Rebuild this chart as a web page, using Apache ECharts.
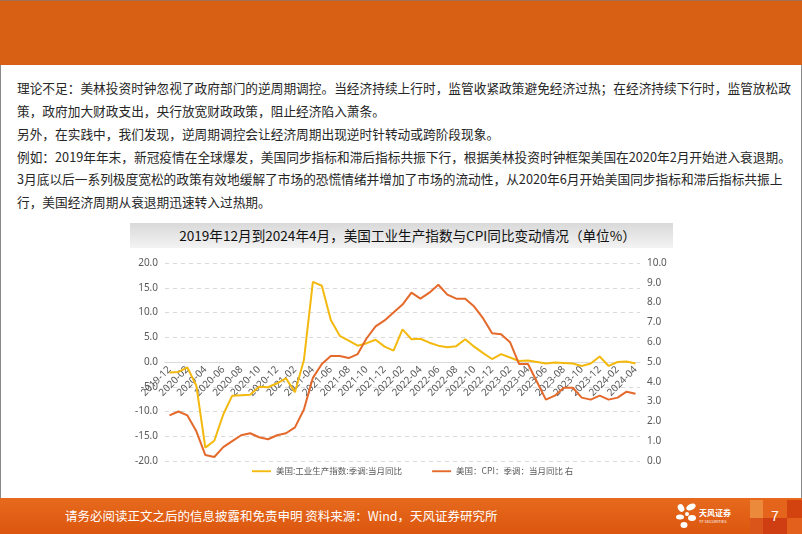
<!DOCTYPE html>
<html><head><meta charset="utf-8">
<script src="https://cdn.jsdelivr.net/npm/echarts@6/dist/echarts.min.js"></script>
<style>
html,body{margin:0;padding:0;width:802px;height:534px;overflow:hidden;background:#fff;font-family:"Noto Sans CJK SC","Noto Sans",sans-serif;}
#page{position:absolute;left:0;top:0;width:802px;height:534px;}
.bar{position:absolute;left:0;top:0;width:802px;height:65px;background:#D86014;border-top:1px solid #a07050;box-sizing:border-box;}
.side{position:absolute;top:65px;height:433px;width:1px;background:#8a8a8a;}
.ln{position:absolute;left:17px;font-size:12.7px;line-height:16px;color:#262626;white-space:nowrap;}
.tband{position:absolute;left:130px;top:223px;width:543px;height:25px;background:linear-gradient(to bottom,#d9d9d9,#f3f3f3);}
.ttl{position:absolute;left:142px;top:223px;width:531px;height:25px;line-height:25px;text-align:center;font-size:13.6px;color:#111;font-weight:400;}
.foot{position:absolute;left:0;top:498px;width:802px;height:36px;background:linear-gradient(to bottom,#e66a1e,#dc560e);}
.ftxt{position:absolute;left:65px;top:507px;font-size:12.5px;line-height:18px;color:#fff;white-space:nowrap;}
#chart{position:absolute;left:0;top:0;width:802px;height:534px;}
</style></head>
<body>
<div id="page">
  <div class="bar"></div>
  <div class="side" style="left:0"></div>
  <div class="side" style="left:801px"></div>
  <div class="ln" style="top:80px">理论不足：美林投资时钟忽视了政府部门的逆周期调控。当经济持续上行时，监管收紧政策避免经济过热；在经济持续下行时，监管放松政</div>
  <div class="ln" style="top:103px">策，政府加大财政支出，央行放宽财政政策，阻止经济陷入萧条。</div>
  <div class="ln" style="top:126px">另外，在实践中，我们发现，逆周期调控会让经济周期出现逆时针转动或跨阶段现象。</div>
  <div class="ln" style="top:149px">例如：2019年年末，新冠疫情在全球爆发，美国同步指标和滞后指标共振下行，根据美林投资时钟框架美国在2020年2月开始进入衰退期。</div>
  <div class="ln" style="top:171px">3月底以后一系列极度宽松的政策有效地缓解了市场的恐慌情绪并增加了市场的流动性，从2020年6月开始美国同步指标和滞后指标共振上</div>
  <div class="ln" style="top:194px">行，美国经济周期从衰退期迅速转入过热期。</div>
  <div class="tband"></div>
  <div class="ttl">2019年12月到2024年4月，美国工业生产指数与CPI同比变动情况（单位%）</div>
  <div class="foot"></div>
  <div style="position:absolute;left:750px;top:500px;width:13px;height:18px;background:#ec8a3c"></div>
  <div style="position:absolute;left:763px;top:500px;width:24px;height:18px;background:#e5641c"></div>
  <div style="position:absolute;left:787px;top:500px;width:15px;height:18px;background:#d2430f"></div>
  <div style="position:absolute;left:750px;top:518px;width:13px;height:16px;background:#d9551a"></div>
  <div style="position:absolute;left:763px;top:518px;width:24px;height:16px;background:#cf3e12"></div>
  <div style="position:absolute;left:787px;top:518px;width:15px;height:16px;background:#e2601c"></div>
  <div style="position:absolute;left:771px;top:507px;font-size:14px;line-height:18px;color:#fff;font-family:'Liberation Sans',sans-serif;">7</div>
  <div class="ftxt">请务必阅读正文之后的信息披露和免责申明 资料来源：Wind，天风证券研究所</div>
  <svg style="position:absolute;left:676px;top:502px" width="22" height="28" viewBox="0 0 22 28">
    <ellipse cx="5" cy="6" rx="3" ry="4" fill="#fff" transform="rotate(-30 5 6)"/>
    <ellipse cx="15" cy="5" rx="5" ry="3" fill="#fff" transform="rotate(-25 15 5)"/>
    <ellipse cx="4" cy="15" rx="4" ry="2.5" fill="#fff"/>
    <ellipse cx="16" cy="16" rx="4" ry="3" fill="#fff"/>
    <ellipse cx="8" cy="23" rx="3.5" ry="3" fill="#fff"/>
    <circle cx="11" cy="12" r="2" fill="#fff"/>
  </svg>
  <div style="position:absolute;left:699px;top:508px;font-size:8px;line-height:10px;color:#fff;font-weight:bold;white-space:nowrap;">天风证券</div>
  <div style="position:absolute;left:699px;top:519px;font-size:4px;line-height:5px;color:#fff;white-space:nowrap;">TF SECURITIES</div>
</div>
<div id="chart"></div>
<script>
var months = ['2019-12','2020-01','2020-02','2020-03','2020-04','2020-05','2020-06','2020-07','2020-08','2020-09','2020-10','2020-11','2020-12',
'2021-01','2021-02','2021-03','2021-04','2021-05','2021-06','2021-07','2021-08','2021-09','2021-10','2021-11','2021-12',
'2022-01','2022-02','2022-03','2022-04','2022-05','2022-06','2022-07','2022-08','2022-09','2022-10','2022-11','2022-12',
'2023-01','2023-02','2023-03','2023-04','2023-05','2023-06','2023-07','2023-08','2023-09','2023-10','2023-11','2023-12',
'2024-01','2024-02','2024-03','2024-04'];
var ipName = '美国:工业生产指数:季调:当月同比';
var cpiName = '美国：CPI：季调：当月同比 右';
var ipYoY = [-2.1,-2.0,-1.1,-4.8,-17.3,-15.9,-10.6,-6.8,-6.7,-6.6,
  -5.0,-5.1,-4.3,-3.3,-6.1,0.4,16.2,15.4,8.5,5.3,
  4.3,3.3,3.8,4.5,3.1,2.3,6.6,4.6,4.7,3.9,
  3.3,3.0,3.2,4.6,3.1,1.8,0.6,1.6,0.9,0.2,
  0.3,0.0,-0.3,-0.1,-0.2,-0.3,-0.8,-0.3,1.1,-0.8,
  0.0,0.1,-0.3];
var cpiYoY = [2.3,2.5,2.3,1.5,0.3,0.2,0.7,1.0,1.3,1.4,
  1.2,1.1,1.3,1.4,1.7,2.6,4.2,4.9,5.3,5.3,
  5.2,5.4,6.2,6.8,7.1,7.5,7.9,8.5,8.2,8.5,
  8.9,8.4,8.2,8.2,7.8,7.2,6.45,6.4,6.0,4.9,
  4.9,4.0,3.1,3.3,3.7,3.7,3.2,3.1,3.3,3.1,
  3.2,3.5,3.4];
var leftTicks = {min:-20, max:20, interval:5};
var rightTicks = {min:0, max:10, interval:1};

var gridTop = 263, gridBottom = 73, chartH = 534;
var plotH = chartH - gridTop - gridBottom;
// place category axis at left-axis zero
var zeroOffset = -plotH * (0 - leftTicks.min) / (leftTicks.max - leftTicks.min);

var chart = echarts.init(document.getElementById('chart'), null, {renderer:'canvas'});
var lblColor = '#595959';
chart.setOption({
  backgroundColor: 'transparent',
  animation: false,
  grid: {left:165, right:162, top:gridTop, bottom:gridBottom, containLabel:false},
  legend: {
    left: 252, top: 467, padding: 0, itemWidth: 19, itemHeight: 8, itemGap: 30,
    icon: 'path://M0,3L20,3L20,5L0,5Z',
    textStyle: {fontSize: 8.5, color: lblColor, fontFamily: 'Noto Sans CJK SC'},
    data: [ipName, cpiName]
  },
  xAxis: {
    type: 'category', data: months, boundaryGap: true, position:'bottom', offset: zeroOffset,
    axisLine: {show:true, onZero:false, lineStyle:{color:'#d9d9d9', width:1}},
    axisTick: {show:false},
    axisLabel: {interval:1, rotate:45, fontSize:10, color:lblColor, margin:6, fontFamily:'Noto Sans'}
  },
  yAxis: [
    {type:'value', min:leftTicks.min, max:leftTicks.max, interval:leftTicks.interval,
     axisLine:{show:false}, axisTick:{show:false},
     axisLabel:{fontSize:10, color:lblColor, margin:7, formatter:function(v){return v.toFixed(1);}, fontFamily:'Noto Sans'},
     splitLine:{show:true, lineStyle:{color:'#d9d9d9', type:[4,4], width:1}}},
    {type:'value', min:rightTicks.min, max:rightTicks.max, interval:rightTicks.interval,
     axisLine:{show:false}, axisTick:{show:false},
     axisLabel:{fontSize:10, color:lblColor, margin:7, formatter:function(v){return v.toFixed(1);}, fontFamily:'Noto Sans'},
     splitLine:{show:false}}
  ],
  series: [
    {name: ipName, type:'line', yAxisIndex:0, data: ipYoY, symbol:'none', smooth:false,
     lineStyle:{color:'#F4B90E', width:2}, itemStyle:{color:'#F4B90E'}},
    {name: cpiName, type:'line', yAxisIndex:1, data: cpiYoY, symbol:'none', smooth:false,
     lineStyle:{color:'#E4692A', width:2}, itemStyle:{color:'#E4692A'}}
  ]
});
</script>
</body></html>
